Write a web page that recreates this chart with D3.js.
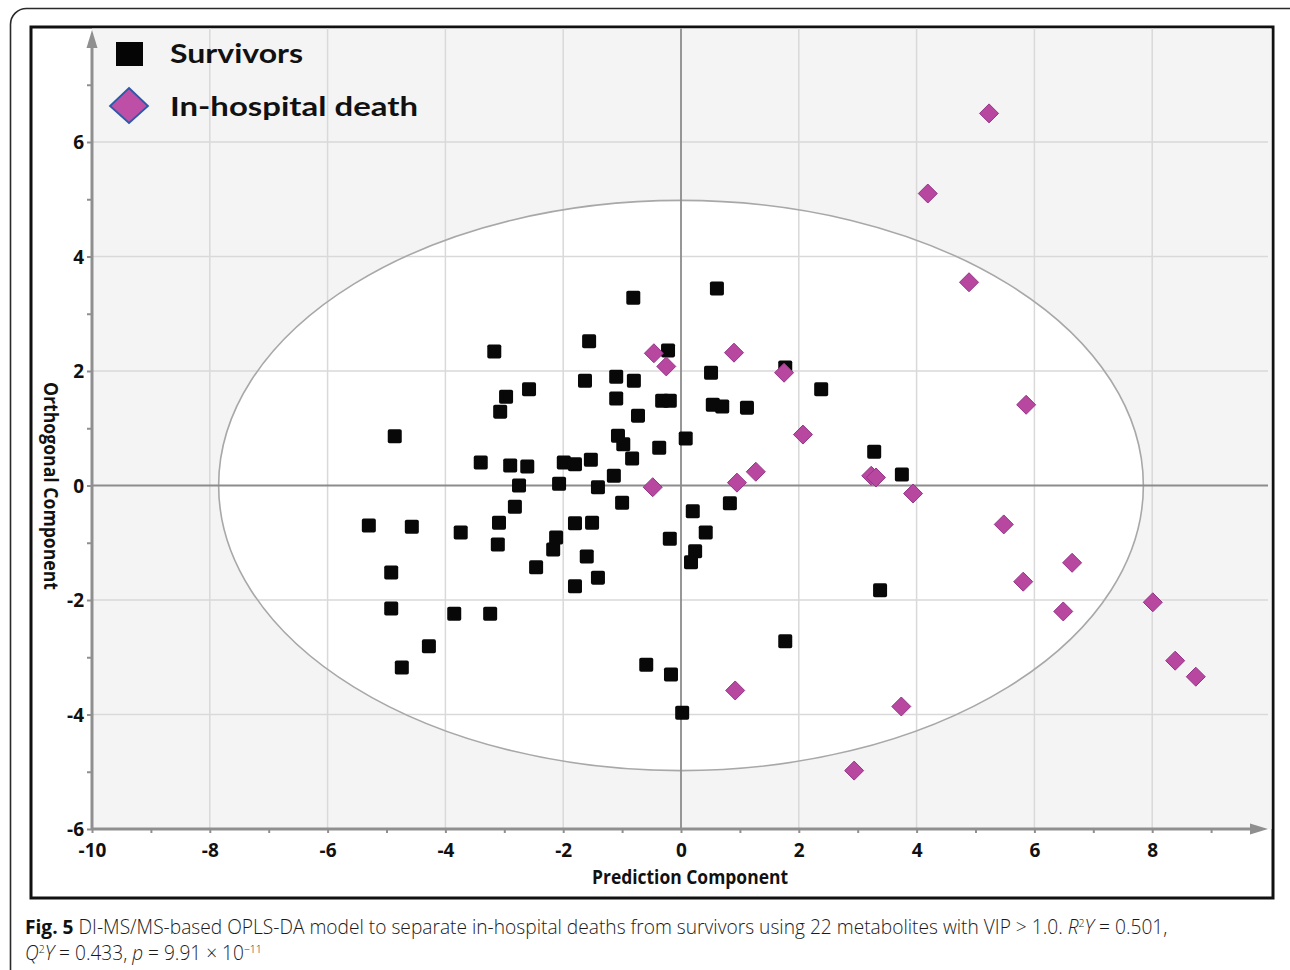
<!DOCTYPE html>
<html>
<head>
<meta charset="utf-8">
<script src="https://cdn.jsdelivr.net/npm/d3@7"></script>
<style>
  html, body { margin: 0; padding: 0; background: #fff; }
  svg { display: block; }
</style>
</head>
<body>
<svg id="chart" width="1290" height="970"></svg>
<script>
// OPLS-DA score plot: prediction component (x) vs orthogonal component (y)
const survivorsX = [-0.81, 0.61, -3.17, -1.56, -0.22, -1.63, -1.10, -0.80, 0.51, 1.77,
  2.38, -2.58, -2.97, -3.07, -1.10, -0.32, -0.19, 0.54, 0.70, 1.12,
  -0.73, -4.86, -1.07, -0.98, -0.37, 0.08, -0.83, -1.53, -1.99, -1.80,
  -3.40, -2.90, -2.61, -1.14, 3.28, 3.75, -2.75, -2.07, -1.41, -2.82,
  -1.00, 0.83, -5.30, -4.57, -3.09, -1.80, -1.51, 0.20, 0.42, -3.74,
  -2.12, -2.17, -3.11, -0.19, 0.24, 0.17, -1.60, -2.46, -1.41, -1.80,
  -4.92, -4.92, -3.85, -3.24, -4.28, -4.74, 3.38, 1.77, -0.59, -0.17, 0.02];
const survivorsY = [3.28, 3.44, 2.34, 2.52, 2.36, 1.83, 1.90, 1.83, 1.97, 2.06,
  1.68, 1.68, 1.55, 1.29, 1.52, 1.48, 1.48, 1.41, 1.38, 1.36,
  1.22, 0.86, 0.87, 0.72, 0.66, 0.82, 0.47, 0.45, 0.40, 0.37,
  0.40, 0.35, 0.33, 0.17, 0.59, 0.19, 0.00, 0.03, -0.03, -0.37,
  -0.30, -0.31, -0.70, -0.72, -0.65, -0.66, -0.65, -0.45, -0.82, -0.82,
  -0.91, -1.12, -1.03, -0.93, -1.15, -1.34, -1.24, -1.43, -1.61, -1.76,
  -1.52, -2.15, -2.24, -2.24, -2.81, -3.18, -1.83, -2.72, -3.13, -3.30, -3.97];

const deathX = [5.23, 4.19, 4.89, -0.46, -0.25, 0.90, 1.75, 5.86, 2.07, 1.27,
  0.95, -0.48, 3.23, 3.31, 3.94, 5.48, 6.64, 5.81, 8.01, 6.49,
  8.39, 8.74, 0.92, 3.74, 2.94];
const deathY = [6.50, 5.10, 3.55, 2.31, 2.08, 2.32, 1.97, 1.41, 0.89, 0.24,
  0.05, -0.03, 0.17, 0.14, -0.14, -0.68, -1.35, -1.68, -2.04, -2.20,
  -3.06, -3.34, -3.58, -3.86, -4.98];

// Hotelling's T2 ellipse radii (in score units)
const ellipseRadiusX = 7.85;
const ellipseRadiusY = 4.98;

const xTickLabels = [-10, -8, -6, -4, -2, 0, 2, 4, 6, 8];
const yTickLabels = [-6, -4, -2, 0, 2, 4, 6];
const xGridValues = [-8, -6, -4, -2, 2, 4, 6, 8];
const yGridValues = [-4, -2, 2, 4, 6];

const legendLabels = ["Survivors", "In-hospital death"];
const xTitle = "Prediction Component";
const yTitle = "Orthogonal Component";

const svg = d3.select("#chart");

const x = d3.scaleLinear().domain([-10, 10]).range([92, 1270]);
const y = d3.scaleLinear().domain([-6, 8]).range([829, 27.5]);

// outer rounded panel
svg.append("rect")
  .attr("x", 10.5).attr("y", 8.5).attr("width", 1320).attr("height", 1010)
  .attr("rx", 16).attr("fill", "#fff").attr("stroke", "#2a2a2a").attr("stroke-width", 1.6);

// inner figure frame
svg.append("rect")
  .attr("x", 31).attr("y", 27).attr("width", 1242).attr("height", 871)
  .attr("fill", "#fff").attr("stroke", "#111").attr("stroke-width", 3);

const plot = svg.append("g");

// plot background
plot.append("rect")
  .attr("x", x(-10)).attr("y", 28.5)
  .attr("width", 1271.5 - x(-10)).attr("height", y(-6) - 28.5)
  .attr("fill", "#f4f4f4");

// ellipse interior
const ecx = x(0), ecy = y(0);
const erx = x(ellipseRadiusX) - x(0), ery = y(0) - y(ellipseRadiusY);
plot.append("ellipse")
  .attr("cx", ecx).attr("cy", ecy).attr("rx", erx).attr("ry", ery)
  .attr("fill", "#fff");

// grid
plot.selectAll("line.vgrid").data(xGridValues).join("line")
  .attr("class", "vgrid")
  .attr("x1", d => x(d)).attr("x2", d => x(d))
  .attr("y1", 28.5).attr("y2", y(-6))
  .attr("stroke", "#d9d9d9").attr("stroke-width", 1.5);
plot.selectAll("line.hgrid").data(yGridValues).join("line")
  .attr("class", "hgrid")
  .attr("x1", x(-10)).attr("x2", 1268)
  .attr("y1", d => y(d)).attr("y2", d => y(d))
  .attr("stroke", "#d9d9d9").attr("stroke-width", 1.5);

// ellipse outline
plot.append("ellipse")
  .attr("cx", ecx).attr("cy", ecy).attr("rx", erx).attr("ry", ery)
  .attr("fill", "none").attr("stroke", "#a8a8a8").attr("stroke-width", 1.6);

// zero lines
plot.append("line")
  .attr("x1", x(0)).attr("x2", x(0)).attr("y1", 28.5).attr("y2", y(-6))
  .attr("stroke", "#8c8c8c").attr("stroke-width", 1.8);
plot.append("line")
  .attr("x1", x(-10)).attr("x2", 1268).attr("y1", y(0)).attr("y2", y(0))
  .attr("stroke", "#8c8c8c").attr("stroke-width", 1.8);

// axes
const axisColor = "#8f8f8f";
const xAxis = d3.axisBottom(x)
  .tickValues(d3.range(-10, 10, 1))
  .tickFormat(d => xTickLabels.includes(d) ? d : "")
  .tickSize(4).tickPadding(8);
const gx = svg.append("g").attr("transform", `translate(0,${y(-6)})`).call(xAxis);
gx.select(".domain").remove();
gx.selectAll(".tick line").attr("stroke", axisColor).attr("stroke-width", 2);
gx.selectAll(".tick text")
  .attr("fill", "#111").attr("font-family", "'Open Sans', sans-serif")
  .attr("font-weight", 700).attr("font-size", 19)
  .attr("dy", "0.85em")
  .text(d => xTickLabels.includes(d) ? String(d) : "");
gx.append("line")
  .attr("x1", x(-10)).attr("x2", 1252).attr("y1", 0).attr("y2", 0)
  .attr("stroke", axisColor).attr("stroke-width", 3);
gx.append("path")
  .attr("d", "M1250,-5.5 L1268,0 L1250,5.5 Z").attr("fill", axisColor);

const yAxis = d3.axisLeft(y)
  .tickValues(d3.range(-6, 8, 1))
  .tickFormat(d => yTickLabels.includes(d) ? d : "")
  .tickSize(5).tickPadding(3);
const gy = svg.append("g").attr("transform", `translate(${x(-10)},0)`).call(yAxis);
gy.select(".domain").remove();
gy.selectAll(".tick line").attr("stroke", axisColor).attr("stroke-width", 2);
gy.selectAll(".tick text")
  .attr("fill", "#111").attr("font-family", "'Open Sans', sans-serif")
  .attr("font-weight", 700).attr("font-size", 19)
  .attr("dy", "0.36em");
gy.append("line")
  .attr("x1", 0).attr("x2", 0).attr("y1", y(-6)).attr("y2", 46)
  .attr("stroke", axisColor).attr("stroke-width", 3);
gy.append("path")
  .attr("d", "M-5.5,48 L0,30 L5.5,48 Z").attr("fill", axisColor);

// axis titles
svg.append("text")
  .attr("x", 690).attr("y", 884)
  .attr("text-anchor", "middle")
  .attr("font-family", "'Open Sans', sans-serif").attr("font-weight", 700)
  .attr("font-size", 19).attr("fill", "#111")
  .attr("textLength", 196).attr("lengthAdjust", "spacingAndGlyphs")
  .text(xTitle);
svg.append("text")
  .attr("transform", `translate(44,486) rotate(90)`)
  .attr("text-anchor", "middle")
  .attr("font-family", "'Open Sans', sans-serif").attr("font-weight", 700)
  .attr("font-size", 19).attr("fill", "#111")
  .attr("textLength", 208).attr("lengthAdjust", "spacingAndGlyphs")
  .text(yTitle);

// markers
const survivors = survivorsX.map((v, i) => ({ x: v, y: survivorsY[i] }));
const deaths = deathX.map((v, i) => ({ x: v, y: deathY[i] }));

const sq = 14;
plot.selectAll("rect.surv").data(survivors).join("rect")
  .attr("class", "surv")
  .attr("x", d => x(d.x) - sq / 2).attr("y", d => y(d.y) - sq / 2)
  .attr("width", sq).attr("height", sq).attr("rx", 1.8)
  .attr("fill", "#080808");

const dh = 9.5;
const diamondPath = `M0,${-dh} L${dh},0 L0,${dh} L${-dh},0 Z`;
plot.selectAll("path.death").data(deaths).join("path")
  .attr("class", "death")
  .attr("transform", d => `translate(${x(d.x)},${y(d.y)})`)
  .attr("d", diamondPath)
  .attr("fill", "#b7479f").attr("stroke", "#94358a").attr("stroke-width", 1);

// legend
const legend = svg.append("g");
legend.append("rect")
  .attr("x", 116).attr("y", 42).attr("width", 27).attr("height", 24)
  .attr("fill", "#050505");
legend.append("path")
  .attr("d", "M129,88 L148,106 L129,123 L110,106 Z")
  .attr("fill", "#bd4fa6").attr("stroke", "#2b5aa8").attr("stroke-width", 1.8);
legend.selectAll("text").data(legendLabels).join("text")
  .attr("x", 170).attr("y", (d, i) => 63 + i * 53)
  .attr("font-family", "Lato, 'Open Sans', sans-serif").attr("font-weight", 700)
  .attr("font-size", 26).attr("fill", "#111")
  .attr("textLength", (d, i) => i === 0 ? 133 : 248)
  .attr("lengthAdjust", "spacingAndGlyphs")
  .text(d => d);

// caption (condensed by a horizontal scale fitted to the line width)
const capSize = 20;
const supSize = 11;
const supRise = 7;
const cap = svg.append("g")
  .attr("font-family", "'Open Sans', sans-serif").attr("fill", "#1a1a1a");
const line1 = cap.append("text").attr("font-size", capSize);
line1.append("tspan").attr("font-weight", 700).attr("fill", "#111").text("Fig. 5");
line1.append("tspan").attr("font-weight", 300)
  .text(" DI-MS/MS-based OPLS-DA model to separate in-hospital deaths from survivors using 22 metabolites with VIP > 1.0. ");
line1.append("tspan").attr("font-weight", 300).attr("font-style", "italic").text("R");
line1.append("tspan").attr("font-weight", 300).attr("font-size", supSize).attr("dy", -supRise).text("2");
line1.append("tspan").attr("font-weight", 300).attr("font-style", "italic").attr("dy", supRise).text("Y");
line1.append("tspan").attr("font-weight", 300).text(" = 0.501,");

const line2 = cap.append("text").attr("font-size", capSize);
line2.append("tspan").attr("font-weight", 300).attr("font-style", "italic").text("Q");
line2.append("tspan").attr("font-weight", 300).attr("font-size", supSize).attr("dy", -supRise).text("2");
line2.append("tspan").attr("font-weight", 300).attr("font-style", "italic").attr("dy", supRise).text("Y");
line2.append("tspan").attr("font-weight", 300).text(" = 0.433, ");
line2.append("tspan").attr("font-weight", 300).attr("font-style", "italic").text("p");
line2.append("tspan").attr("font-weight", 300).text(" = 9.91 × 10");
line2.append("tspan").attr("font-weight", 300).attr("font-size", supSize).attr("dy", -supRise).text("−11");

function fitLine(sel, x0, yBase, target) {
  const w = sel.node().getComputedTextLength();
  sel.attr("transform", `translate(${x0},${yBase}) scale(${target / w},1)`);
}
fitLine(line1, 25, 934, 1143);
fitLine(line2, 25, 960, 237);
</script>
</body>
</html>
